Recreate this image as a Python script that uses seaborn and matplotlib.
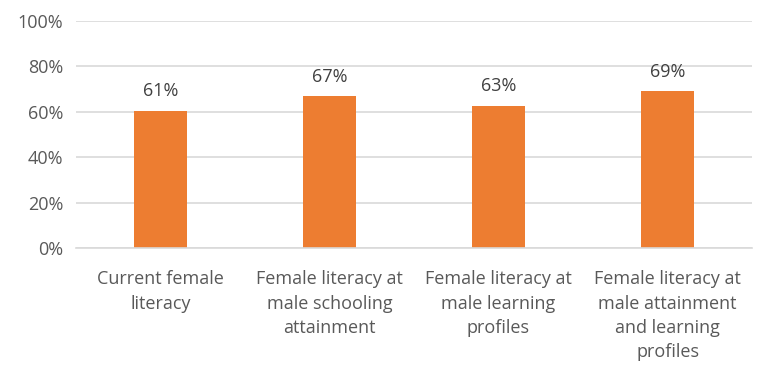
import numpy as np
import pandas as pd
import matplotlib.pyplot as plt
import seaborn as sns

categories = ["Current female\nliteracy",
              "Female literacy at\nmale schooling\nattainment",
              "Female literacy at\nmale learning\nprofiles",
              "Female literacy at\nmale attainment\nand learning\nprofiles"]
values = [0.605, 0.67, 0.627, 0.692]
labels = ["61%", "67%", "63%", "69%"]
yticks = [0, 0.2, 0.4, 0.6, 0.8, 1.0]
ytick_labels = ["0%", "20%", "40%", "60%", "80%", "100%"]

sns.set_style("white")
plt.rcParams['font.family'] = ['Open Sans', 'DejaVu Sans']

df = pd.DataFrame({"cat": categories, "val": values})

fig = plt.figure(figsize=(7.69, 3.71), dpi=100)
ax = fig.add_axes([76/769, 1-248/371, 676/769, 227/371])
sns.barplot(data=df, x="cat", y="val", color="#ED7D31", width=0.31,
            saturation=1, linewidth=0, ax=ax)

for i, (v, t) in enumerate(zip(values, labels)):
    ax.text(i, v + 0.045, t, ha="center", va="bottom", fontsize=13, color="#404040")

ax.set_ylim(0, 1.0)
ax.set_yticks(yticks)
ax.set_yticklabels(ytick_labels)
ax.yaxis.grid(True, color="#D9D9D9", linewidth=1.2)
ax.set_axisbelow(True)
for s in ["top", "right", "left"]:
    ax.spines[s].set_visible(False)
ax.spines["bottom"].set_color("#D9D9D9")
ax.spines["bottom"].set_linewidth(1.2)
ax.tick_params(axis="both", length=0, labelsize=13, colors="#595959")
ax.tick_params(axis="x", pad=16)
ax.tick_params(axis="y", pad=9)
ax.set_xlabel("")
ax.set_ylabel("")
ax.set_xlim(-0.5, 3.5)
for lbl in ax.get_xticklabels():
    lbl.set_va("top")
    lbl.set_linespacing(1.45)

fig.savefig("out.png", dpi=100)
